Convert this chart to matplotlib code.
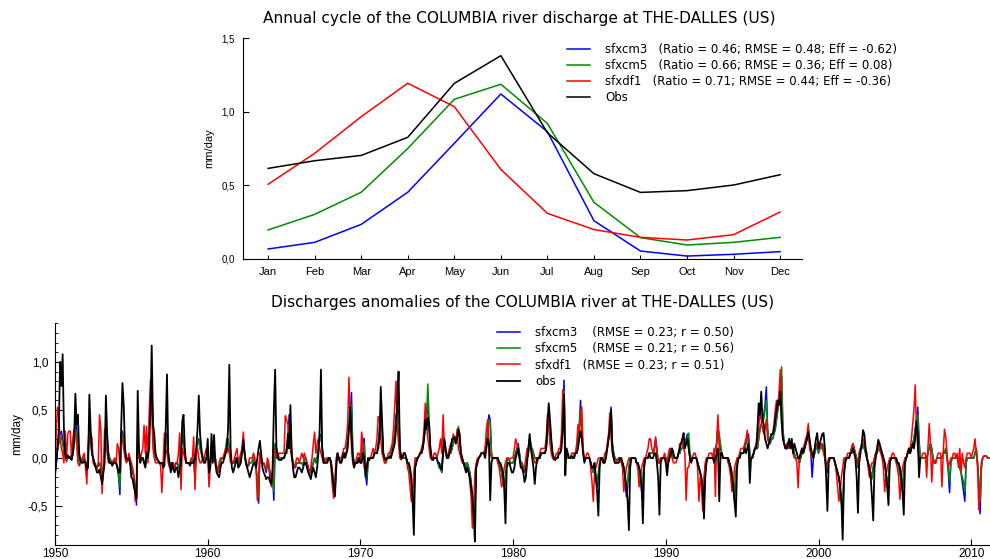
import matplotlib.pyplot as plt
import numpy as np
from matplotlib.ticker import FuncFormatter, MultipleLocator

plt.rcParams["font.family"] = ["Liberation Sans", "DejaVu Sans"]
WIDE = "DejaVu Sans"  # titles and legends use the wider face

# ---- annual cycle (mm/day) ----
months = ["Jan", "Feb", "Mar", "Apr", "May", "Jun",
          "Jul", "Aug", "Sep", "Oct", "Nov", "Dec"]
cycle_cm3 = [0.068, 0.113, 0.235, 0.453, 0.785, 1.12, 0.864, 0.26, 0.054, 0.02, 0.032, 0.05]
cycle_cm5 = [0.197, 0.303, 0.453, 0.75, 1.084, 1.186, 0.92, 0.385, 0.145, 0.095, 0.113, 0.147]
cycle_df1 = [0.507, 0.717, 0.966, 1.193, 1.034, 0.608, 0.31, 0.20, 0.147, 0.129, 0.165, 0.319]
cycle_obs = [0.615, 0.667, 0.703, 0.826, 1.192, 1.38, 0.857, 0.579, 0.452, 0.464, 0.502, 0.572]

cycle_labels = [
    "sfxcm3   (Ratio = 0.46; RMSE = 0.48; Eff = -0.62)",
    "sfxcm5   (Ratio = 0.66; RMSE = 0.36; Eff = 0.08)",
    "sfxdf1   (Ratio = 0.71; RMSE = 0.44; Eff = -0.36)",
    "Obs",
]
anom_labels = [
    "sfxcm3    (RMSE = 0.23; r = 0.50)",
    "sfxcm5    (RMSE = 0.21; r = 0.56)",
    "sfxdf1   (RMSE = 0.23; r = 0.51)",
    "obs",
]

# ---- monthly anomalies (mm/day), one row per year starting 1950 ----
obs_rows = [
    [-0.15, -0.05, 0.10, 0.30, 1.00, 0.75, 1.08, 0.30, 0.05, 0.00, 0.03, 0.00],  # 1950
    [0.00, -0.02, 0.05, 0.20, 0.67, 0.35, 0.45, 0.05, -0.02, -0.05, -0.05, -0.03],
    [-0.05, -0.12, -0.10, 0.66, 0.30, 0.05, 0.00, -0.05, -0.10, -0.15, -0.15, -0.12],
    [-0.20, -0.27, -0.15, -0.05, 0.65, 0.25, 0.00, -0.05, -0.05, -0.08, -0.05, -0.05],
    [-0.05, -0.10, -0.15, -0.15, 0.30, 0.78, 0.55, 0.10, 0.00, -0.02, 0.00, -0.05],
    [-0.20, -0.22, -0.30, -0.35, -0.42, 0.70, 0.10, -0.05, 0.00, 0.00, -0.05, -0.10],  # 1955
    [0.05, 0.00, 0.10, 0.50, 1.17, 0.35, 0.25, 0.05, 0.00, -0.02, -0.05, -0.05],
    [-0.05, -0.10, -0.08, 0.30, 0.87, 0.05, -0.05, -0.15, -0.05, -0.12, -0.15, -0.10],
    [-0.10, -0.20, -0.12, -0.05, 0.38, 0.45, 0.10, -0.05, -0.05, -0.05, -0.08, -0.05],
    [-0.05, -0.05, 0.00, 0.10, 0.30, 0.65, 0.25, 0.10, 0.00, -0.05, -0.05, 0.00],
    [0.20, -0.15, -0.10, 0.25, -0.05, 0.24, -0.05, -0.15, -0.18, -0.20, -0.10, -0.05],  # 1960
    [-0.05, 0.00, 0.05, 0.10, 0.30, 0.97, 0.10, -0.10, -0.15, -0.10, -0.05, 0.00],
    [-0.10, -0.08, -0.05, 0.05, 0.19, 0.05, -0.05, -0.10, -0.15, -0.20, -0.15, -0.10],
    [-0.05, -0.05, -0.10, 0.00, 0.10, 0.18, 0.05, -0.10, -0.15, -0.18, -0.22, -0.20],
    [-0.20, -0.25, -0.27, -0.10, 0.50, 0.92, 0.10, 0.00, -0.02, -0.02, -0.02, 0.00],
    [0.00, 0.05, 0.05, 0.25, 0.10, 0.55, 0.05, -0.10, -0.20, -0.20, -0.15, -0.10],  # 1965
    [-0.10, -0.12, -0.15, -0.10, -0.05, -0.05, -0.10, -0.15, -0.18, -0.22, -0.15, -0.10],
    [-0.15, -0.20, -0.10, 0.05, 0.30, 0.92, 0.10, -0.05, -0.05, -0.05, -0.05, 0.00],
    [0.00, -0.05, -0.20, -0.30, -0.40, -0.10, 0.05, 0.00, -0.05, -0.05, 0.00, 0.05],
    [0.00, 0.05, 0.10, 0.30, 0.53, 0.25, 0.00, -0.10, -0.05, -0.05, -0.05, 0.00],
    [-0.05, -0.05, 0.05, 0.00, -0.20, -0.10, 0.00, -0.02, 0.00, 0.00, 0.00, 0.05],  # 1970
    [0.05, 0.05, 0.10, 0.20, 0.74, 0.40, 0.05, 0.00, -0.02, 0.00, 0.00, 0.02],
    [0.00, 0.05, 0.10, 0.15, 0.30, 0.57, 0.90, 0.10, 0.00, 0.00, 0.05, 0.05],
    [0.00, -0.05, -0.05, -0.10, -0.20, -0.43, -0.80, -0.10, -0.05, 0.00, 0.02, 0.05],
    [0.05, 0.10, 0.20, 0.40, 0.30, 0.42, 0.35, 0.10, 0.00, -0.02, 0.00, 0.00],
    [0.00, -0.05, -0.05, -0.10, -0.12, 0.05, 0.20, 0.10, 0.00, 0.00, 0.05, 0.10],  # 1975
    [0.20, 0.20, 0.22, 0.15, 0.20, 0.30, 0.25, 0.05, 0.00, -0.05, -0.10, -0.15],
    [-0.10, -0.15, -0.20, -0.30, -0.40, -0.60, -0.87, -0.10, -0.05, 0.00, 0.02, 0.05],
    [0.05, 0.05, 0.00, 0.10, 0.20, 0.15, -0.44, -0.05, 0.00, 0.00, 0.00, 0.00],
    [0.00, -0.05, -0.05, -0.10, -0.15, -0.30, -0.68, -0.10, -0.05, -0.05, -0.10, -0.15],
    [-0.15, -0.10, 0.00, 0.05, 0.10, 0.00, -0.10, -0.10, -0.15, -0.25, -0.20, -0.05],  # 1980
    [0.10, 0.25, 0.10, 0.00, -0.10, -0.27, -0.10, 0.00, 0.00, 0.00, 0.05, 0.05],
    [0.05, 0.05, 0.10, 0.35, 0.57, 0.40, 0.20, 0.05, 0.00, -0.02, 0.00, 0.00],
    [0.05, 0.05, 0.10, 0.30, 0.66, -0.18, 0.10, 0.05, 0.00, 0.00, 0.02, 0.00],
    [0.00, 0.05, 0.05, 0.10, 0.20, 0.28, 0.20, 0.05, -0.05, 0.00, 0.00, 0.00],
    [0.00, -0.05, -0.10, -0.10, -0.05, -0.20, -0.35, -0.60, -0.10, 0.00, 0.00, -0.05],  # 1985
    [-0.05, 0.00, 0.10, 0.20, 0.30, 0.50, 0.10, 0.00, -0.05, -0.05, -0.05, -0.05],
    [0.00, 0.00, -0.05, -0.10, -0.20, -0.30, -0.45, -0.75, -0.10, 0.00, 0.00, 0.00],
    [0.00, -0.05, -0.05, -0.10, -0.15, -0.30, -0.68, -0.10, 0.00, 0.00, 0.00, 0.05],
    [0.00, 0.00, 0.00, 0.05, 0.05, -0.05, -0.20, -0.59, -0.05, 0.00, 0.00, 0.00],
    [-0.05, -0.18, -0.05, 0.00, 0.05, 0.10, 0.05, 0.00, 0.00, 0.00, 0.05, 0.10],  # 1990
    [0.15, 0.20, 0.26, 0.10, 0.15, 0.20, 0.10, 0.00, -0.05, 0.00, 0.00, 0.00],
    [0.00, -0.05, -0.10, -0.15, -0.20, -0.30, -0.63, -0.20, -0.05, 0.00, 0.00, 0.00],
    [0.00, 0.00, -0.05, 0.00, 0.05, 0.10, -0.45, 0.05, 0.05, 0.00, 0.00, 0.00],
    [0.00, 0.00, -0.05, -0.10, -0.20, -0.30, -0.45, -0.61, -0.10, 0.00, 0.00, 0.05],
    [0.05, 0.05, 0.10, 0.05, 0.10, 0.15, -0.26, 0.00, 0.00, 0.05, 0.10, 0.10],  # 1995
    [0.30, 0.57, 0.45, 0.69, 0.40, 0.35, 0.20, 0.15, 0.10, 0.15, 0.20, 0.25],
    [0.25, 0.30, 0.40, 0.50, 0.60, 0.55, 0.69, 0.40, 0.20, 0.15, 0.10, 0.10],
    [0.15, 0.20, 0.10, 0.20, 0.05, 0.15, 0.10, 0.05, 0.00, 0.00, 0.05, 0.10],
    [0.05, 0.10, 0.15, 0.20, 0.27, 0.20, 0.10, 0.05, 0.00, 0.10, 0.20, 0.26],
    [0.10, 0.15, 0.20, 0.25, 0.26, 0.10, -0.20, -0.55, -0.05, 0.00, 0.00, 0.00],  # 2000
    [0.00, -0.05, -0.10, -0.15, -0.20, -0.30, -0.45, -0.85, -0.20, -0.05, 0.00, 0.00],
    [0.00, 0.05, 0.05, 0.10, 0.05, 0.00, -0.20, -0.57, -0.05, 0.05, 0.15, 0.29],
    [0.25, 0.10, 0.00, -0.05, -0.10, -0.20, -0.40, -0.65, -0.10, 0.00, 0.10, 0.19],
    [0.15, 0.10, 0.05, 0.00, -0.05, -0.15, -0.30, -0.49, -0.05, 0.00, 0.00, 0.00],
    [0.00, 0.00, -0.05, -0.05, -0.10, -0.20, -0.35, -0.59, -0.05, 0.00, 0.05, 0.10],  # 2005
    [0.05, 0.10, 0.15, 0.10, 0.20, 0.38, 0.25, -0.20, 0.00],  # record stops Sep 2006
]

cm3_rows = [
    [-0.20, -0.05, 0.10, 0.20, 0.25, 0.28, 0.20, 0.10, 0.00, -0.02, 0.02, 0.00],  # 1950
    [0.02, 0.00, 0.05, 0.15, 0.40, 0.30, 0.10, 0.00, -0.05, -0.03, -0.02, 0.00],
    [-0.05, -0.08, 0.00, 0.35, 0.25, 0.05, -0.02, -0.05, -0.08, -0.10, -0.08, -0.05],
    [-0.10, -0.25, -0.15, 0.05, 0.30, 0.20, 0.05, 0.00, -0.03, -0.05, -0.03, -0.02],
    [-0.05, -0.10, -0.20, -0.38, 0.15, 0.28, 0.20, 0.05, 0.00, -0.02, 0.00, -0.05],
    [-0.10, -0.15, -0.20, -0.30, -0.49, 0.20, 0.05, -0.02, 0.00, 0.00, -0.05, -0.08],  # 1955
    [0.05, 0.10, 0.30, 0.60, 0.78, 0.35, 0.10, 0.00, -0.02, -0.03, -0.05, -0.05],
    [-0.05, -0.08, 0.00, 0.15, 0.26, 0.05, -0.05, -0.10, -0.05, -0.08, -0.10, -0.05],
    [-0.05, -0.10, -0.05, 0.10, 0.20, 0.15, 0.05, -0.05, -0.05, -0.05, -0.05, -0.05],
    [0.00, -0.05, -0.20, 0.05, 0.15, 0.20, 0.10, 0.05, 0.00, -0.02, 0.00, 0.00],
    [0.05, -0.10, -0.05, 0.10, 0.05, 0.05, 0.00, -0.10, -0.15, -0.10, -0.05, 0.00],  # 1960
    [0.00, 0.00, 0.05, 0.15, 0.20, 0.10, 0.00, -0.05, -0.05, -0.05, 0.00, 0.00],
    [-0.05, -0.05, 0.00, 0.10, 0.15, 0.05, -0.05, -0.10, -0.08, -0.05, -0.05, -0.03],
    [0.00, -0.05, -0.10, -0.25, -0.47, 0.05, 0.00, -0.05, -0.05, -0.10, -0.15, -0.05],
    [-0.10, -0.20, -0.25, -0.20, -0.44, 0.15, 0.10, 0.05, 0.00, 0.00, 0.00, 0.00],
    [0.00, 0.05, 0.10, 0.20, 0.45, 0.30, 0.05, -0.05, -0.10, -0.10, -0.05, -0.05],  # 1965
    [-0.05, -0.05, -0.05, -0.08, 0.00, 0.00, -0.05, -0.10, -0.15, -0.15, -0.10, -0.05],
    [0.00, -0.05, 0.00, 0.10, 0.20, 0.25, 0.10, 0.00, -0.03, -0.03, -0.02, 0.00],
    [0.00, -0.05, -0.15, -0.25, -0.38, -0.05, 0.05, 0.00, -0.03, -0.03, 0.00, 0.05],
    [0.05, 0.05, 0.20, 0.30, 0.40, 0.68, 0.05, -0.05, -0.05, -0.05, 0.00, 0.00],
    [0.00, 0.05, 0.20, 0.20, -0.15, -0.28, -0.05, 0.00, 0.00, 0.00, 0.00, 0.05],  # 1970
    [0.05, 0.05, 0.15, 0.30, 0.50, 0.35, 0.05, 0.00, 0.00, 0.00, 0.00, 0.00],
    [0.05, 0.10, 0.15, 0.25, 0.45, 0.50, 0.65, 0.10, 0.00, 0.00, 0.00, 0.00],
    [0.00, -0.05, -0.10, -0.15, -0.25, -0.40, -0.45, -0.10, 0.00, 0.00, 0.02, 0.05],
    [0.05, 0.10, 0.20, 0.30, 0.45, 0.55, 0.30, 0.10, 0.00, -0.02, 0.00, 0.00],
    [0.00, -0.05, -0.10, -0.10, -0.15, 0.10, 0.15, 0.05, 0.00, 0.00, 0.05, 0.05],  # 1975
    [0.10, 0.15, 0.20, 0.20, 0.25, 0.30, 0.20, 0.05, 0.00, -0.05, -0.05, -0.10],
    [-0.05, -0.10, -0.15, -0.25, -0.40, -0.60, -0.50, -0.10, -0.02, 0.00, 0.02, 0.05],
    [0.05, 0.05, 0.10, 0.15, 0.25, 0.45, 0.40, 0.05, 0.00, 0.00, 0.00, 0.00],
    [0.00, -0.05, -0.10, -0.15, -0.25, -0.30, -0.20, -0.05, 0.00, -0.02, -0.05, -0.05],
    [-0.05, 0.00, 0.05, 0.10, 0.15, 0.05, -0.05, -0.05, -0.10, -0.15, -0.10, 0.00],  # 1980
    [0.05, 0.15, 0.10, 0.10, 0.05, 0.00, 0.00, 0.00, 0.00, 0.00, 0.05, 0.05],
    [0.05, 0.05, 0.10, 0.25, 0.40, 0.35, 0.15, 0.05, 0.00, -0.02, 0.00, 0.00],
    [0.05, 0.05, 0.15, 0.40, 0.81, 0.10, 0.05, 0.00, 0.00, 0.00, 0.00, 0.00],
    [0.05, 0.05, 0.10, 0.20, 0.35, 0.60, 0.30, 0.05, 0.00, 0.00, 0.00, 0.00],
    [0.00, -0.05, -0.10, -0.15, -0.10, -0.20, -0.30, -0.20, -0.05, 0.00, 0.00, -0.05],  # 1985
    [0.00, 0.05, 0.10, 0.20, 0.35, 0.53, 0.15, 0.05, 0.00, -0.02, -0.02, 0.00],
    [0.00, -0.02, -0.05, -0.10, -0.20, -0.40, -0.30, -0.10, 0.00, 0.00, 0.00, 0.00],
    [0.00, -0.05, -0.05, -0.10, -0.20, -0.35, -0.25, -0.05, 0.00, 0.00, 0.00, 0.05],
    [0.05, 0.05, 0.05, 0.10, 0.20, 0.10, -0.05, -0.05, 0.00, 0.00, 0.00, 0.00],
    [0.00, -0.05, 0.00, 0.05, 0.10, 0.05, 0.00, 0.00, 0.00, 0.00, 0.05, 0.05],  # 1990
    [0.10, 0.10, 0.15, 0.15, 0.20, 0.25, 0.10, 0.00, 0.00, 0.00, 0.00, 0.00],
    [0.00, -0.05, -0.10, -0.15, -0.25, -0.40, -0.50, -0.10, 0.00, 0.00, 0.00, 0.00],
    [0.00, 0.00, 0.05, 0.10, 0.15, 0.35, 0.20, 0.10, 0.05, 0.00, 0.00, 0.00],
    [0.00, 0.00, -0.05, -0.10, -0.15, -0.25, -0.45, -0.20, -0.05, 0.00, 0.00, 0.05],
    [0.05, 0.05, 0.10, 0.15, 0.20, 0.25, 0.05, 0.00, 0.00, 0.05, 0.10, 0.10],  # 1995
    [0.10, 0.20, 0.30, 0.35, 0.40, 0.45, 0.55, 0.74, 0.30, 0.15, 0.15, 0.20],
    [0.20, 0.25, 0.30, 0.40, 0.50, 0.60, 0.75, 0.85, 0.30, 0.15, 0.10, 0.10],
    [0.10, 0.15, 0.10, 0.15, 0.10, 0.05, 0.00, 0.00, 0.00, -0.05, 0.00, 0.05],
    [0.05, 0.10, 0.15, 0.20, 0.30, 0.15, 0.05, -0.20, 0.00, 0.05, 0.10, 0.15],
    [0.05, 0.10, 0.10, 0.15, 0.10, 0.00, -0.10, -0.15, 0.00, 0.00, 0.00, 0.00],  # 2000
    [0.00, -0.05, -0.10, -0.15, -0.20, -0.30, -0.45, -0.65, -0.15, 0.00, 0.00, 0.00],
    [0.00, 0.05, 0.10, 0.15, 0.10, 0.05, 0.00, -0.10, 0.05, 0.10, 0.10, 0.15],
    [0.10, 0.05, 0.00, -0.05, -0.10, -0.15, -0.20, -0.10, 0.00, 0.05, 0.05, 0.10],
    [0.10, 0.05, 0.05, 0.00, -0.05, -0.15, -0.30, -0.20, -0.05, 0.00, 0.00, 0.00],
    [0.00, 0.00, -0.05, -0.10, -0.15, -0.25, -0.35, -0.15, 0.00, 0.00, 0.05, 0.05],  # 2005
    [0.05, 0.10, 0.15, 0.20, 0.30, 0.40, 0.53, 0.20, 0.00, 0.00, 0.00, 0.00],
    [0.00, 0.00, 0.05, 0.10, 0.15, 0.10, 0.00, -0.05, -0.05, 0.00, 0.00, 0.00],
    [0.00, 0.00, 0.05, 0.05, 0.10, 0.00, -0.15, -0.36, -0.05, 0.00, 0.00, 0.00],
    [0.00, 0.00, -0.05, -0.10, -0.15, -0.25, -0.35, -0.45, -0.05, 0.00, 0.00, 0.00],
    [0.00, 0.00, 0.00, 0.05, 0.10, -0.05, -0.30, -0.58, -0.10, 0.00, 0.02, 0.02],  # 2010
    [0.02, 0.00, 0.00],
]

cm5_rows = [
    [-0.15, 0.00, 0.10, 0.15, 0.18, 0.22, 0.15, 0.05, 0.00, -0.03, 0.00, 0.00],  # 1950
    [0.00, -0.02, 0.03, 0.12, 0.30, 0.25, 0.10, -0.08, -0.05, -0.03, 0.00, 0.00],
    [-0.05, -0.08, 0.00, 0.30, 0.22, 0.05, 0.00, -0.05, -0.08, -0.08, -0.06, -0.05],
    [-0.10, -0.20, -0.12, 0.05, 0.28, 0.18, 0.05, 0.00, -0.03, -0.05, -0.03, -0.02],
    [-0.05, -0.08, -0.15, -0.30, 0.10, 0.25, 0.18, 0.05, 0.00, -0.02, 0.00, -0.05],
    [-0.10, -0.12, -0.18, -0.28, -0.40, 0.15, 0.05, -0.02, 0.00, 0.00, -0.03, -0.05],  # 1955
    [0.05, 0.10, 0.30, 0.55, 0.70, 0.30, 0.10, 0.00, -0.02, -0.03, -0.05, -0.05],
    [-0.05, -0.08, 0.00, 0.12, 0.22, 0.05, -0.05, -0.08, -0.05, -0.08, -0.08, -0.05],
    [-0.05, -0.10, -0.05, 0.15, 0.30, 0.20, 0.05, -0.05, -0.05, -0.05, -0.05, -0.03],
    [0.00, -0.05, -0.15, 0.05, 0.15, 0.18, 0.10, 0.05, 0.00, -0.02, 0.00, 0.00],
    [0.05, -0.10, -0.05, 0.10, 0.05, 0.05, 0.00, -0.08, -0.12, -0.08, -0.05, 0.00],  # 1960
    [0.00, 0.00, 0.08, 0.20, 0.18, 0.10, 0.00, -0.05, -0.05, -0.05, 0.00, 0.00],
    [-0.05, -0.05, 0.00, 0.10, 0.12, 0.05, -0.05, -0.08, -0.08, -0.05, -0.05, -0.03],
    [0.00, -0.05, -0.10, -0.20, -0.40, 0.05, 0.00, -0.05, -0.05, -0.08, -0.12, -0.05],
    [-0.10, -0.15, -0.20, -0.15, -0.35, 0.15, 0.10, 0.05, 0.00, 0.00, 0.00, 0.00],
    [0.00, 0.05, 0.10, 0.20, 0.35, 0.25, 0.05, -0.05, -0.10, -0.08, -0.05, -0.05],  # 1965
    [-0.05, -0.05, -0.05, -0.08, 0.00, 0.00, -0.05, -0.12, -0.18, -0.12, -0.08, -0.05],
    [0.00, -0.05, 0.00, 0.10, 0.20, 0.22, 0.10, 0.00, -0.03, -0.03, -0.02, 0.00],
    [0.00, -0.05, -0.15, -0.25, -0.35, -0.05, 0.05, 0.00, -0.03, -0.03, 0.00, 0.05],
    [0.05, 0.05, 0.20, 0.30, 0.40, 0.55, 0.05, -0.05, -0.05, -0.05, 0.00, 0.00],
    [0.00, 0.05, 0.15, 0.15, -0.10, -0.20, -0.05, 0.00, 0.00, 0.00, 0.00, 0.05],  # 1970
    [0.05, 0.05, 0.15, 0.25, 0.45, 0.30, 0.05, -0.05, -0.05, 0.00, 0.00, 0.00],
    [0.05, 0.10, 0.15, 0.25, 0.40, 0.45, 0.55, 0.10, 0.00, 0.00, 0.00, 0.00],
    [0.00, -0.05, -0.10, -0.15, -0.25, -0.35, -0.40, -0.10, 0.00, 0.00, 0.02, 0.05],
    [0.05, 0.10, 0.20, 0.30, 0.45, 0.77, 0.40, 0.10, 0.00, -0.02, 0.00, 0.00],
    [0.00, -0.05, -0.10, -0.12, -0.15, 0.10, 0.18, 0.05, 0.00, 0.00, 0.05, 0.05],  # 1975
    [0.10, 0.15, 0.20, 0.20, 0.25, 0.33, 0.20, 0.05, 0.00, -0.05, -0.05, -0.10],
    [-0.05, -0.10, -0.15, -0.25, -0.40, -0.55, -0.45, -0.10, -0.02, 0.00, 0.02, 0.05],
    [0.05, 0.05, 0.10, 0.15, 0.25, 0.40, 0.38, 0.05, 0.00, 0.00, 0.00, 0.00],
    [0.00, -0.05, -0.10, -0.15, -0.25, -0.32, -0.20, -0.05, 0.00, -0.02, -0.05, -0.05],
    [-0.05, 0.00, 0.05, 0.10, 0.12, 0.05, -0.05, -0.05, -0.10, -0.12, -0.08, 0.00],  # 1980
    [0.05, 0.12, 0.10, 0.10, 0.05, 0.00, 0.00, -0.05, 0.00, 0.00, 0.05, 0.05],
    [0.05, 0.05, 0.10, 0.25, 0.38, 0.30, 0.15, 0.05, 0.00, -0.02, 0.00, 0.00],
    [0.05, 0.05, 0.15, 0.40, 0.70, 0.10, 0.05, 0.00, 0.00, 0.00, 0.00, 0.00],
    [0.05, 0.05, 0.10, 0.20, 0.30, 0.50, 0.30, 0.05, 0.00, 0.00, 0.00, 0.00],
    [0.00, -0.05, -0.10, -0.15, -0.10, -0.20, -0.25, -0.15, -0.05, 0.00, 0.00, -0.05],  # 1985
    [0.00, 0.05, 0.10, 0.20, 0.30, 0.45, 0.15, 0.05, 0.00, -0.02, -0.02, 0.00],
    [0.00, -0.02, -0.05, -0.10, -0.20, -0.30, -0.25, -0.10, 0.00, 0.00, 0.00, 0.00],
    [0.00, -0.05, -0.05, -0.10, -0.20, -0.30, -0.22, -0.05, 0.00, 0.00, 0.00, 0.05],
    [0.05, 0.05, 0.05, 0.10, 0.15, 0.10, -0.05, -0.05, 0.00, 0.00, 0.00, 0.00],
    [0.00, -0.05, 0.00, 0.05, 0.10, 0.05, 0.00, 0.00, 0.00, 0.00, 0.05, 0.05],  # 1990
    [0.10, 0.10, 0.15, 0.15, 0.20, 0.20, 0.26, 0.05, 0.00, 0.00, 0.00, 0.00],
    [0.00, -0.05, -0.10, -0.15, -0.25, -0.35, -0.45, -0.10, 0.00, 0.00, 0.00, 0.00],
    [0.00, 0.00, 0.05, 0.10, 0.15, 0.30, 0.25, 0.15, 0.05, 0.00, 0.00, 0.00],
    [0.00, 0.00, -0.05, -0.10, -0.15, -0.25, -0.40, -0.15, -0.05, 0.00, 0.00, 0.05],
    [0.05, 0.05, 0.10, 0.15, 0.20, 0.20, 0.05, 0.00, 0.00, 0.05, 0.10, 0.10],  # 1995
    [0.10, 0.20, 0.30, 0.35, 0.40, 0.40, 0.50, 0.60, 0.30, 0.15, 0.15, 0.20],
    [0.20, 0.25, 0.30, 0.40, 0.50, 0.60, 0.70, 0.95, 0.30, 0.15, 0.10, 0.10],
    [0.10, 0.15, 0.10, 0.15, 0.10, 0.05, 0.00, 0.00, 0.00, -0.05, 0.00, 0.05],
    [0.05, 0.10, 0.15, 0.20, 0.30, 0.15, 0.05, 0.00, 0.00, 0.05, 0.10, 0.15],
    [0.05, 0.10, 0.10, 0.15, 0.10, 0.00, -0.10, -0.12, 0.00, 0.00, 0.00, 0.00],  # 2000
    [0.00, -0.05, -0.10, -0.15, -0.20, -0.30, -0.45, -0.62, -0.15, 0.00, 0.00, 0.00],
    [0.00, 0.05, 0.10, 0.15, 0.10, 0.05, 0.00, -0.08, 0.05, 0.10, 0.10, 0.15],
    [0.10, 0.05, 0.00, -0.05, -0.10, -0.15, -0.22, -0.10, 0.00, 0.05, 0.05, 0.10],
    [0.10, 0.05, 0.05, 0.00, -0.05, -0.15, -0.28, -0.20, -0.05, 0.00, 0.00, 0.00],
    [0.00, 0.00, -0.05, -0.10, -0.15, -0.25, -0.30, -0.15, 0.00, 0.00, 0.05, 0.05],  # 2005
    [0.05, 0.10, 0.15, 0.20, 0.30, 0.40, 0.45, 0.15, 0.00, 0.00, 0.00, 0.00],
    [0.00, 0.00, 0.05, 0.10, 0.15, 0.10, 0.00, -0.05, -0.05, 0.00, 0.00, 0.00],
    [0.00, 0.00, 0.05, 0.05, 0.10, 0.00, -0.10, -0.25, -0.05, 0.00, 0.00, 0.00],
    [0.00, 0.00, -0.05, -0.10, -0.15, -0.20, -0.25, -0.35, -0.05, 0.00, 0.00, 0.00],
    [0.00, 0.00, 0.00, 0.05, 0.10, -0.05, -0.25, -0.45, -0.10, 0.00, 0.02, 0.02],  # 2010
    [0.02, 0.00, 0.00],
]

df1_rows = [
    [-0.25, 0.30, 0.53, 0.40, 0.20, 0.10, 0.05, -0.05, 0.28, -0.04, 0.25, 0.28],  # 1950
    [0.28, 0.00, 0.20, 0.30, 0.25, 0.15, -0.05, -0.08, -0.05, -0.02, 0.02, 0.05],
    [-0.10, -0.27, 0.10, 0.40, 0.15, 0.22, -0.05, -0.08, -0.10, -0.12, -0.05, 0.45],
    [0.30, -0.37, -0.10, 0.30, 0.15, 0.05, -0.05, -0.05, -0.05, -0.05, -0.02, 0.00],
    [-0.05, 0.15, 0.10, -0.10, 0.25, 0.20, 0.10, 0.00, -0.05, -0.03, 0.05, 0.00],
    [-0.05, -0.10, -0.20, -0.45, -0.40, 0.05, 0.00, -0.02, 0.05, 0.10, 0.34, 0.05],  # 1955
    [0.33, -0.05, 0.45, 0.81, 0.50, 0.10, 0.00, -0.05, -0.05, -0.05, -0.05, -0.08],
    [-0.36, -0.05, 0.26, 0.10, 0.05, -0.05, -0.10, -0.10, -0.05, -0.05, -0.10, -0.05],
    [-0.05, 0.05, 0.26, -0.33, 0.10, 0.05, 0.00, -0.05, -0.05, -0.05, -0.05, 0.00],
    [0.00, 0.22, -0.33, 0.05, 0.10, 0.00, -0.05, -0.05, 0.00, 0.00, 0.05, 0.10],
    [0.05, -0.30, -0.10, 0.05, 0.05, 0.00, -0.05, -0.10, -0.15, -0.05, 0.00, 0.00],  # 1960
    [0.00, 0.05, 0.10, 0.05, 0.10, 0.05, -0.05, -0.05, -0.05, 0.00, 0.05, 0.10],
    [-0.05, 0.00, 0.05, 0.10, 0.27, 0.05, -0.05, -0.10, -0.05, 0.00, 0.00, 0.00],
    [0.05, 0.00, -0.10, -0.44, -0.20, 0.05, -0.05, -0.05, -0.05, -0.10, -0.10, 0.00],
    [-0.05, -0.15, -0.30, -0.20, 0.10, 0.05, 0.00, 0.00, 0.05, 0.05, 0.05, 0.05],
    [0.05, 0.44, 0.40, 0.35, 0.20, 0.10, 0.00, -0.05, -0.10, -0.05, 0.00, 0.00],  # 1965
    [-0.05, 0.00, 0.05, 0.00, 0.05, 0.00, -0.05, -0.10, -0.15, -0.10, 0.00, 0.15],
    [0.27, 0.05, 0.15, 0.20, 0.10, 0.05, 0.00, -0.05, -0.05, 0.00, 0.00, 0.00],
    [0.00, -0.10, -0.30, -0.42, -0.20, 0.00, 0.05, 0.00, 0.00, 0.00, 0.05, 0.10],
    [0.10, 0.20, 0.35, 0.84, 0.40, 0.10, -0.05, -0.10, -0.05, 0.00, 0.05, 0.05],
    [-0.05, 0.27, 0.15, -0.10, -0.05, -0.10, 0.00, 0.00, 0.00, 0.05, 0.10, 0.05],  # 1970
    [0.10, 0.20, 0.43, 0.40, 0.20, 0.05, 0.00, -0.05, -0.05, 0.00, 0.05, 0.05],
    [0.10, 0.15, 0.30, 0.55, 0.80, 0.30, 0.15, 0.00, -0.02, 0.00, 0.05, 0.05],
    [0.00, -0.10, -0.15, -0.30, -0.45, -0.35, -0.15, 0.00, 0.00, 0.00, 0.02, 0.05],
    [0.10, 0.15, 0.30, 0.57, 0.35, 0.20, 0.10, 0.00, -0.02, 0.00, 0.05, 0.05],
    [0.00, 0.05, 0.10, 0.20, 0.05, 0.45, 0.10, 0.05, 0.00, 0.05, 0.10, 0.15],  # 1975
    [0.15, 0.25, 0.20, 0.15, 0.30, 0.10, 0.05, 0.00, -0.05, -0.05, -0.10, -0.10],
    [-0.10, -0.15, -0.25, -0.40, -0.73, -0.50, -0.15, -0.05, 0.00, 0.00, 0.02, 0.05],
    [0.05, 0.05, 0.10, 0.30, 0.40, 0.20, 0.05, 0.00, 0.00, 0.00, 0.00, 0.00],
    [-0.05, -0.10, -0.20, -0.30, -0.25, -0.10, -0.05, 0.00, 0.00, -0.02, 0.00, 0.00],
    [0.00, 0.10, 0.20, 0.15, 0.05, 0.00, -0.05, -0.10, -0.15, -0.10, 0.00, 0.10],  # 1980
    [0.10, 0.20, 0.15, 0.05, 0.00, -0.05, -0.05, 0.00, 0.00, 0.05, 0.10, 0.10],
    [0.10, 0.10, 0.20, 0.45, 0.35, 0.15, 0.05, 0.00, -0.02, 0.00, 0.05, 0.05],
    [0.10, 0.10, 0.25, 0.71, 0.40, 0.05, 0.00, 0.00, 0.00, 0.00, 0.05, 0.05],
    [0.05, 0.05, 0.15, 0.35, 0.25, 0.40, 0.53, 0.10, 0.00, 0.00, 0.05, 0.05],
    [0.00, -0.10, -0.25, -0.45, -0.15, -0.10, -0.05, 0.00, 0.00, 0.00, -0.02, -0.05],  # 1985
    [0.05, 0.05, 0.15, 0.25, 0.47, 0.20, 0.05, 0.00, -0.05, -0.05, -0.02, 0.00],
    [0.00, -0.05, -0.10, -0.35, -0.20, -0.10, -0.05, 0.00, 0.00, 0.00, 0.00, 0.00],
    [0.00, -0.05, -0.10, -0.30, -0.20, -0.10, -0.05, 0.00, 0.00, 0.05, 0.10, 0.20],
    [0.20, 0.10, 0.05, 0.10, 0.22, 0.05, -0.05, -0.05, 0.00, 0.00, 0.00, 0.05],
    [0.00, -0.10, 0.05, 0.10, 0.05, 0.00, -0.05, -0.05, -0.05, 0.00, 0.05, 0.15],  # 1990
    [0.15, 0.20, 0.10, 0.05, -0.44, -0.10, -0.10, 0.00, 0.00, 0.00, 0.05, 0.05],
    [0.00, -0.10, -0.45, -0.20, -0.30, -0.55, -0.20, -0.05, 0.00, 0.00, 0.05, 0.05],
    [0.05, 0.00, 0.10, -0.40, 0.20, 0.45, 0.10, 0.00, 0.00, 0.00, 0.00, 0.00],
    [0.00, -0.05, -0.10, -0.20, -0.35, -0.30, -0.10, -0.05, 0.00, 0.00, 0.05, 0.10],
    [0.10, 0.10, 0.15, 0.20, 0.29, 0.10, 0.00, 0.00, 0.00, 0.05, 0.10, 0.15],  # 1995
    [0.15, 0.30, 0.50, 0.40, 0.30, 0.25, 0.30, 0.40, 0.20, 0.15, 0.20, 0.25],
    [0.25, 0.35, 0.50, 0.60, 0.50, 0.70, 0.92, 0.35, 0.20, 0.15, 0.10, 0.15],
    [0.10, 0.20, 0.10, 0.15, 0.05, 0.00, 0.00, -0.05, -0.31, 0.00, 0.05, 0.10],
    [0.10, 0.15, 0.20, 0.25, 0.36, 0.10, 0.05, 0.00, 0.05, 0.10, 0.15, 0.15],
    [0.10, 0.10, 0.15, 0.10, 0.05, 0.00, -0.05, -0.10, 0.00, 0.00, 0.00, 0.00],  # 2000
    [0.00, -0.05, -0.15, -0.30, -0.45, -0.35, -0.20, -0.10, 0.00, 0.00, 0.00, 0.05],
    [0.05, 0.05, 0.10, 0.15, 0.10, 0.00, -0.05, -0.05, 0.05, 0.10, 0.15, 0.20],
    [0.15, 0.10, 0.05, -0.10, -0.20, -0.10, -0.05, -0.05, 0.00, 0.05, 0.10, 0.15],
    [0.10, 0.05, 0.00, -0.10, -0.35, -0.20, -0.10, -0.05, 0.00, 0.00, 0.05, 0.05],
    [0.00, -0.05, -0.10, -0.20, -0.43, -0.20, -0.10, -0.05, 0.00, 0.00, 0.05, 0.10],  # 2005
    [0.10, 0.20, 0.35, 0.50, 0.76, 0.30, 0.10, 0.00, 0.00, 0.00, 0.05, 0.05],
    [0.05, -0.20, 0.10, 0.36, 0.15, -0.25, 0.00, -0.05, -0.05, 0.00, 0.05, 0.05],
    [0.05, -0.30, 0.05, 0.30, 0.22, 0.05, -0.10, -0.05, 0.00, 0.00, 0.05, 0.05],
    [0.00, 0.05, -0.10, 0.10, -0.15, 0.05, -0.05, -0.10, 0.00, 0.05, 0.05, 0.05],
    [0.00, 0.05, 0.10, 0.20, 0.05, -0.10, -0.54, -0.30, -0.05, 0.00, 0.02, 0.02],  # 2010
    [0.02, 0.00, 0.00],
]

START_YEAR = 1950


def monthly(rows):
    vals = np.concatenate([np.asarray(r, dtype=float) for r in rows])
    t = START_YEAR + np.arange(len(vals)) / 12.0
    return t, vals


def comma_fmt(v, pos):
    return ("%.1f" % v).replace(".", ",")


colors = {"cm3": "#0000ff", "cm5": "#008c00", "df1": "#ff0000", "obs": "#000000"}

fig = plt.figure(figsize=(9.9, 5.59), dpi=100)

# ---------- annual cycle ----------
ax1 = fig.add_axes([243 / 990, 1 - 259 / 559, 559 / 990, 221 / 559])
x = np.arange(1, 13)
for vals, key, lab in zip([cycle_cm3, cycle_cm5, cycle_df1, cycle_obs],
                          ["cm3", "cm5", "df1", "obs"], cycle_labels):
    ax1.plot(x, vals, color=colors[key], lw=1.1, label=lab)
ax1.set_xlim(0.46, 12.47)
ax1.set_ylim(0, 1.5)
ax1.set_xticks(x)
ax1.set_xticklabels(months, fontsize=8)
ax1.yaxis.set_major_locator(MultipleLocator(0.5))
ax1.yaxis.set_major_formatter(FuncFormatter(comma_fmt))
ax1.tick_params(axis="y", direction="in", length=4, labelsize=7, pad=6)
ax1.tick_params(axis="x", direction="in", length=3, pad=6)
for s in ["top", "right"]:
    ax1.spines[s].set_visible(False)
ax1.set_ylabel("mm/day", fontsize=8, labelpad=5)
ax1.legend(loc="upper left", bbox_to_anchor=(567 / 990, 1 - 43 / 559),
           bbox_transform=fig.transFigure, frameon=False,
           prop={"family": WIDE, "size": 8.5},
           handlelength=1.95, handletextpad=1.3, labelspacing=0.25,
           borderpad=0, borderaxespad=0)
fig.text(519 / 990, 1 - 18 / 559,
         "Annual cycle of the COLUMBIA river discharge at THE-DALLES (US)",
         ha="center", va="center", fontsize=11.1, family=WIDE)

# ---------- monthly anomalies ----------
ax2 = fig.add_axes([55 / 990, 1 - 545 / 559, 935 / 990, 222 / 559])
for rows, key, lab in zip([cm3_rows, cm5_rows, df1_rows, obs_rows],
                          ["cm3", "cm5", "df1", "obs"], anom_labels):
    t, v = monthly(rows)
    ax2.plot(t, v, color=colors[key], lw=1.1 if key != "obs" else 1.3,
             label=lab)
ax2.set_xlim(1950, 1950 + 935 / 15.27)
ax2.set_ylim(-0.905, 1.405)
ax2.set_xticks(np.arange(1950, 2011, 10))
ax2.yaxis.set_major_locator(MultipleLocator(0.5))
ax2.yaxis.set_minor_locator(MultipleLocator(0.1))
ax2.yaxis.set_major_formatter(FuncFormatter(comma_fmt))
ax2.tick_params(axis="y", which="major", direction="in", length=5,
                labelsize=8.5, pad=5)
ax2.tick_params(axis="y", which="minor", direction="in", length=2.5)
ax2.tick_params(axis="x", direction="in", length=4, labelsize=8.5, pad=2)
for s in ["top", "right"]:
    ax2.spines[s].set_visible(False)
ax2.set_ylabel("mm/day", fontsize=8.5, labelpad=3)
ax2.legend(loc="upper left", bbox_to_anchor=(497 / 990, 1 - 326 / 559),
           bbox_transform=fig.transFigure, frameon=False,
           prop={"family": WIDE, "size": 8.5},
           handlelength=1.95, handletextpad=1.3, labelspacing=0.28,
           borderpad=0, borderaxespad=0)
fig.text(523 / 990, 1 - 302 / 559,
         "Discharges anomalies of the COLUMBIA river at THE-DALLES (US)",
         ha="center", va="center", fontsize=11.1, family=WIDE)

fig.savefig("out.png", dpi=100)
